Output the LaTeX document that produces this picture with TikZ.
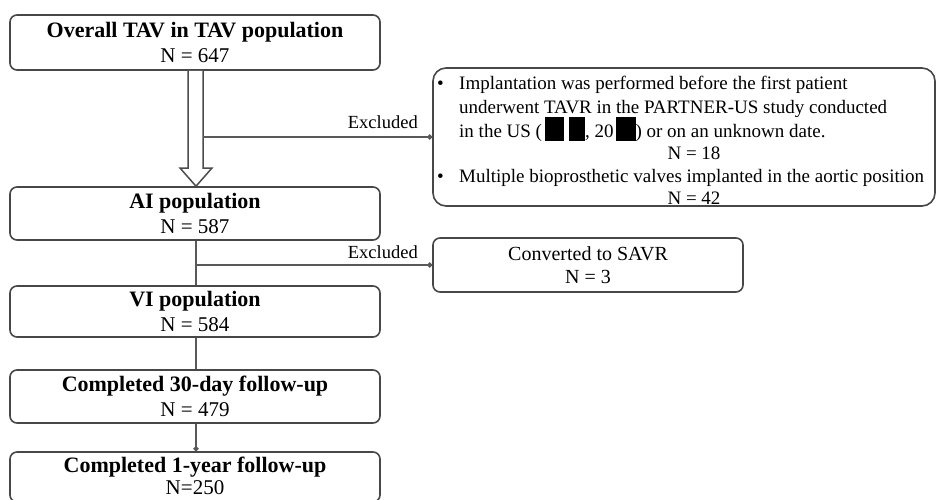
\documentclass[tikz,border=0pt]{standalone}
\usepackage{fontspec}
\setmainfont{Liberation Serif}
\usetikzlibrary{arrows.meta}
\newcommand{\redact}[1]{\rule[-4pt]{#1}{24pt}}
\begin{document}
\begin{tikzpicture}[x=1pt,y=-1pt,
  box/.style={draw=black!72, line width=1.6pt, rounded corners=7pt, fill=white,
    align=center, inner sep=0pt, font=\fontsize{21}{25}\selectfont},
  txt/.style={inner sep=0pt, font=\fontsize{19}{23}\selectfont},
  lbl/.style={inner sep=0pt, font=\fontsize{18.5}{22}\selectfont},
  conn/.style={draw=black!65, line width=1.6pt},
  tip/.style={conn, -{Circle[length=5pt]}}]
\useasboundingbox (0,0) rectangle (936,499);
% main boxes
\node[box, minimum width=370, minimum height=55] (b1) at (195,42.5) {{\fontsize{22}{25}\selectfont\bfseries Overall TAV in TAV population}\\N = 647};
\node[box, minimum width=370, minimum height=53] (b2) at (195,213.5) {{\fontsize{22}{25}\selectfont\bfseries AI population}\\N = 587};
\node[box, minimum width=370, minimum height=51] (b3) at (195,311.5) {{\fontsize{22}{25}\selectfont\bfseries VI population}\\N = 584};
\node[box, minimum width=370, minimum height=53] (b4) at (195,396.5) {{\fontsize{22}{25}\selectfont\bfseries Completed 30-day follow-up}\\N = 479};
\node[box, minimum width=370, minimum height=50] (b5) at (195,477) {};
\node[inner sep=0pt, font=\fontsize{22}{23}\selectfont\bfseries, anchor=base] (b5a) at (195,472) {Completed 1-year follow-up};
\node[inner sep=0pt, font=\fontsize{21}{23}\selectfont, anchor=base] (b5b) at (195,494.5) {N=250};
% side boxes
\node[box, minimum width=310, minimum height=54, font=\fontsize{20}{23}\selectfont] (savr) at (588,265) {Converted to SAVR\\N = 3};
\node[draw=black!72, line width=1.6pt, rounded corners=13pt, minimum width=502, minimum height=138, inner sep=0pt] (ex) at (684,137) {};
% text in the exclusion box
\node[txt, anchor=base west] (u1) at (437,89) {\textbullet};
\node[txt, anchor=base west] (t1) at (459,89) {Implantation was performed before the first patient};
\node[txt, anchor=base west] (t2) at (459,113) {underwent TAVR in the PARTNER-US study conducted};
\node[txt, anchor=base west] (t3) at (459,137) {in the US (\hspace{3pt}\redact{19pt}\hspace{5pt}\redact{16pt}, 20\hspace{2pt}\redact{20pt}) or on an unknown date.};
\node[txt, anchor=base] (n1) at (694,159) {N = 18};
\node[txt, anchor=base west] (u2) at (437,182) {\textbullet};
\node[txt, anchor=base west] (t4) at (459,182) {Multiple bioprosthetic valves implanted in the aortic position};
\node[txt, anchor=base] (n2) at (694,204) {N = 42};
% hollow arrow b1 -> b2
\draw[draw=black!70, line width=1.5pt, fill=white, line join=miter]
  (188,0 |- b1.south) -- (188,168) -- (180,168) -- (196,0 |- b2.north) -- (212,168) -- (203,168) -- (203,0 |- b1.south);
% exclusion branches
\coordinate (s1) at (203,137);
\draw[tip] (s1) -- (ex.west);
\node[lbl, anchor=base east] (e1) at (418,128) {Excluded};
\draw[conn] (b2.south -| 196,0) -- (b3.north -| 196,0);
\coordinate (s2) at (196,265);
\draw[tip] (s2) -- (savr.west);
\node[lbl, anchor=base east] (e2) at (418,258) {Excluded};
\draw[conn] (b3.south -| 196,0) -- (b4.north -| 196,0);
\draw[tip] (b4.south -| 196,0) -- (b5.north -| 196,0);
\end{tikzpicture}
\end{document}
